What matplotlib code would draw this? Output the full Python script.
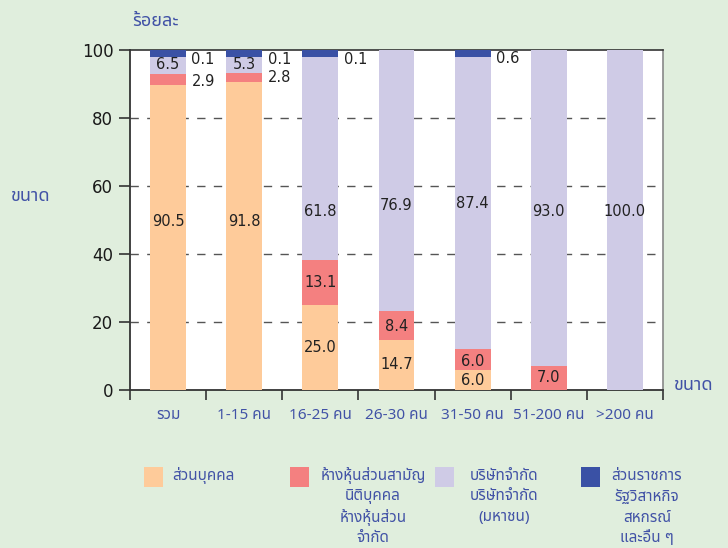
import matplotlib
matplotlib.use("Agg")
import matplotlib.pyplot as plt
from matplotlib.patches import Rectangle
import numpy as np

# ---------------- data ----------------
categories = ["รวม", "1-15 คน", "16-25 คน", "26-30 คน", "31-50 คน", "51-200 คน", ">200 คน"]
series_names = ["ส่วนบุคคล",
                "ห้างหุ้นส่วนสามัญ\nนิติบุคคล\nห้างหุ้นส่วน\nจำกัด",
                "บริษัทจำกัด\nบริษัทจำกัด\n(มหาชน)",
                "ส่วนราชการ\nรัฐวิสาหกิจ\nสหกรณ์\nและอื่น ๆ"]
# segment heights as drawn in the picture (percent)
personal = [89.7, 90.7, 25.0, 14.7, 6.0, 0.0, 0.0]
partnership = [3.2, 2.4, 13.1, 8.4, 6.0, 7.0, 0.0]
company = [5.1, 4.9, 59.9, 76.9, 86.0, 93.0, 100.0]
government = [2.0, 2.0, 2.0, 0.0, 2.0, 0.0, 0.0]

# printed values: (category index, y, text)
labels_inside = [
    (0, 49.7, "90.5"), (0, 95.6, "6.5"),
    (1, 49.7, "91.8"), (1, 95.6, "5.3"),
    (2, 12.4, "25.0"), (2, 31.6, "13.1"), (2, 52.4, "61.8"),
    (3, 7.6, "14.7"), (3, 18.6, "8.4"), (3, 54.4, "76.9"),
    (4, 2.9, "6.0"), (4, 8.3, "6.0"), (4, 55.0, "87.4"),
    (5, 3.8, "7.0"), (5, 52.4, "93.0"),
    (6, 52.4, "100.0"),
]
labels_outside = [
    (0, 97.1, "0.1"), (0, 90.7, "2.9"),
    (1, 97.1, "0.1"), (1, 91.9, "2.8"),
    (2, 97.1, "0.1"),
    (4, 97.5, "0.6"),
]
yticks = [0, 20, 40, 60, 80, 100]

colors = ["#FECB9A", "#F48080", "#CFCBE6", "#3A51A5"]
BG = "#E0EEDD"
BLUE_TXT = "#4152A6"
THAI = ["Noto Sans Thai", "DejaVu Sans"]

fig = plt.figure(figsize=(7.28, 5.48), dpi=100, facecolor=BG)
W, H = 728, 548
ax = fig.add_axes([130 / W, 1 - 390 / H, 533 / W, 340 / H])
ax.set_facecolor("white")

x = np.arange(len(categories))
bw = 0.47
bottom = np.zeros(len(categories))
for vals, c in zip([personal, partnership, company, government], colors):
    v = np.array(vals)
    ax.bar(x, v, bw, bottom=bottom, color=c, zorder=3, linewidth=0)
    bottom += v

for i, y, t in labels_inside:
    ax.text(i, y, t, ha="center", va="center", fontsize=10.5, color="#222222",
            family="DejaVu Sans", zorder=5)
for i, y, t in labels_outside:
    ax.text(i + 0.46, y, t, ha="center", va="center", fontsize=10.5, color="#222222",
            family="DejaVu Sans", zorder=5)

ax.set_xlim(-0.5, len(categories) - 0.5)
ax.set_ylim(0, 100)
ax.set_yticks(yticks)
ax.set_yticklabels([str(v) for v in yticks], fontsize=12, family="DejaVu Sans", color="#1a1a1a")
ax.set_xticks(np.arange(len(categories) + 1) - 0.5)
ax.set_xticklabels([])
ax.tick_params(axis="y", length=8, width=1.2, color="#333333", pad=4)
ax.tick_params(axis="x", length=7, width=1.2, color="#333333")
for yv in yticks[1:-1]:
    ax.axhline(yv, color="#555555", lw=1.0, ls=(0, (6, 6)), zorder=1)

for i, c in enumerate(categories):
    ax.text(i, -7.4, c, ha="center", va="center", fontsize=11, color=BLUE_TXT,
            family=THAI, fontweight="medium", transform=ax.transData, clip_on=False)

for s in ["left", "bottom"]:
    ax.spines[s].set_color("#333333")
    ax.spines[s].set_linewidth(1.3)
ax.spines["top"].set_color("#333333")
ax.spines["top"].set_linewidth(1.2)
ax.spines["right"].set_color("#888888")
ax.spines["right"].set_linewidth(1.2)

# axis titles
fig.text(132 / W, 1 - 21 / H, "ร้อยละ", ha="left", va="center", fontsize=13,
         color=BLUE_TXT, family=THAI, fontweight="medium")
fig.text(10 / W, 1 - 196 / H, "ขนาด", ha="left", va="center", fontsize=13,
         color=BLUE_TXT, family=THAI, fontweight="medium")
fig.text(673 / W, 1 - 385 / H, "ขนาด", ha="left", va="center", fontsize=13,
         color=BLUE_TXT, family=THAI, fontweight="medium")

# legend
sq_x = [144, 290, 435, 581]
txt_x = [172, 373, 504, 647]
line_y = [476, 497, 518, 538]
for k, (name, c) in enumerate(zip(series_names, colors)):
    fig.add_artist(Rectangle((sq_x[k] / W, 1 - 487 / H), 19 / W, 20 / H,
                             transform=fig.transFigure, color=c, lw=0))
    for j, line in enumerate(name.split("\n")):
        fig.text(txt_x[k] / W, 1 - line_y[j] / H, line,
                 ha="left" if k == 0 else "center", va="center",
                 fontsize=11, color=BLUE_TXT, family=THAI, fontweight="medium")

fig.savefig("out.png", dpi=100, facecolor=BG)
